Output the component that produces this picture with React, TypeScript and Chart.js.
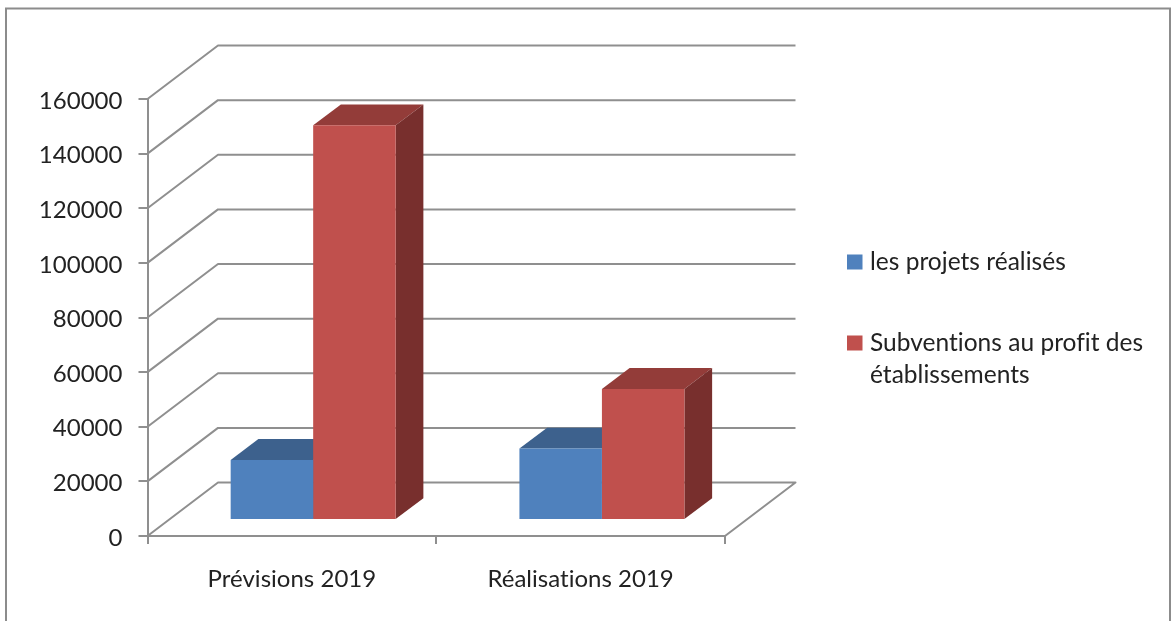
import React, { useEffect, useRef } from "react";
import { Chart, registerables } from "chart.js";

Chart.register(...registerables);

// Budget figures per period
const categories = ["Prévisions 2019", "Réalisations 2019"];
const projetsRealises = [22000, 26200];
const subventions = [144500, 48000];
const seriesNames = ["les projets réalisés", "Subventions au profit des établissements"];
const legendLines = [["les projets réalisés"], ["Subventions au profit des", "établissements"]];

const FRONT = ["#4f81bd", "#c0504d"];
const TOP = ["#3d618d", "#933c39"];
const SIDE = ["#33527a", "#782f2d"];
const LINE = "#8f8f8f";
const TEXT = "#222222";
const FONT = "Lato";

// Oblique projection of the box: wall depth, bar offset on the floor, bar depth
const WALL = { dx: 70.5, dy: 53.5 };
const BAR_SHIFT = { dx: 21.3, dy: 16 };
const BAR_DEPTH = { dx: 27.7, dy: 20.8 };

function poly(ctx: CanvasRenderingContext2D, pts: number[][], fill: string) {
  ctx.fillStyle = fill;
  ctx.beginPath();
  pts.forEach(([x, y], i) => (i ? ctx.lineTo(x, y) : ctx.moveTo(x, y)));
  ctx.closePath();
  ctx.fill();
}

const frame3d = {
  id: "frame3d",
  beforeDraw(chart: any) {
    const { ctx } = chart;
    // A tiny tracking value keeps "ti" and "fi" as separate glyphs
    ctx.letterSpacing = "0.02px";
    ctx.save();
    ctx.strokeStyle = "#8c8c8c";
    ctx.lineWidth = 2;
    ctx.strokeRect(6, 8.5, 1164, 620);
    ctx.restore();
  },
  beforeDatasetsDraw(chart: any) {
    const { ctx, scales } = chart;
    const { left, right } = chart.chartArea;
    ctx.save();
    ctx.strokeStyle = LINE;
    ctx.lineWidth = 2;
    ctx.lineJoin = "round";
    for (const tick of scales.y.ticks) {
      const y = scales.y.getPixelForValue(tick.value);
      ctx.beginPath();
      ctx.moveTo(left, y);
      ctx.lineTo(left + WALL.dx, y - WALL.dy);
      ctx.lineTo(right + WALL.dx, y - WALL.dy);
      if (tick.value === 0) ctx.lineTo(right, y);
      ctx.stroke();
    }
    // Top and side faces of every bar sit below all the front faces
    chart.data.datasets.forEach((_: any, i: number) => {
      for (const el of chart.getDatasetMeta(i).data) {
        const l = el.x - el.width / 2 + BAR_SHIFT.dx;
        const r = el.x + el.width / 2 + BAR_SHIFT.dx;
        const t = el.y - BAR_SHIFT.dy;
        const b = el.base - BAR_SHIFT.dy;
        const dx = BAR_DEPTH.dx;
        const dy = BAR_DEPTH.dy;
        poly(ctx, [[l, t], [l + dx, t - dy], [r + dx, t - dy], [r, t]], TOP[i]);
        poly(ctx, [[r, t], [r + dx, t - dy], [r + dx, b - dy], [r, b]], SIDE[i]);
      }
    });
    ctx.restore();
  },
  beforeDatasetDraw(chart: any) {
    // Front faces come from the bar elements themselves, moved onto the floor
    chart.ctx.save();
    chart.ctx.translate(BAR_SHIFT.dx, -BAR_SHIFT.dy);
  },
  afterDatasetDraw(chart: any) {
    chart.ctx.restore();
  },
  afterDraw(chart: any) {
    const { ctx } = chart;
    const rows = [
      { box: 254.5, text: [262] },
      { box: 335.5, text: [343, 375] },
    ];
    ctx.save();
    ctx.font = `24.5px ${FONT}`;
    ctx.textBaseline = "middle";
    rows.forEach((row, s) => {
      ctx.fillStyle = FRONT[s];
      ctx.fillRect(847, row.box, 15.5, 15);
      ctx.fillStyle = TEXT;
      legendLines[s].forEach((line, k) => ctx.fillText(line, 870, row.text[k]));
    });
    ctx.restore();
  },
};

export default function App() {
  const ref = useRef<HTMLCanvasElement>(null);
  useEffect(() => {
    const chart = new Chart(ref.current!, {
      type: "bar",
      data: {
        labels: categories,
        datasets: [
          { label: seriesNames[0], data: projetsRealises, backgroundColor: FRONT[0], clip: false },
          { label: seriesNames[1], data: subventions, backgroundColor: FRONT[1], clip: false },
        ],
      },
      plugins: [frame3d],
      options: {
        animation: false,
        responsive: false,
        layout: { padding: { top: 99, right: 446, left: 0, bottom: 0 } },
        plugins: { legend: { display: false }, title: { display: false }, tooltip: { enabled: false } },
        datasets: { bar: { categoryPercentage: 165 / 288.75, barPercentage: 1 } },
        scales: {
          x: {
            offset: true,
            afterFit: (s: any) => { s.height = 85; },
            grid: { offset: true, drawOnChartArea: false, color: LINE, lineWidth: 2, tickLength: 8 },
            border: { color: LINE, width: 2 },
            ticks: { color: TEXT, font: { family: FONT, size: 24 }, padding: 21, maxRotation: 0 },
          },
          y: {
            min: 0,
            max: 160000,
            afterFit: (s: any) => { s.width = 147.5; },
            grid: { drawOnChartArea: false, color: LINE, lineWidth: 2, tickLength: 9 },
            border: { color: LINE, width: 2 },
            ticks: {
              stepSize: 20000,
              color: TEXT,
              font: { family: FONT, size: 24 },
              padding: 16,
              labelOffset: 2,
              callback: (v: any) => String(v),
            },
          },
        },
      },
    } as any);
    return () => chart.destroy();
  }, []);
  return (
    <div style={{ position: "absolute", left: 0, top: 0, width: 1171, height: 621, background: "#fff", overflow: "hidden" }}>
      <canvas ref={ref} width={1171} height={621} style={{ display: "block" }} />
    </div>
  );
}
